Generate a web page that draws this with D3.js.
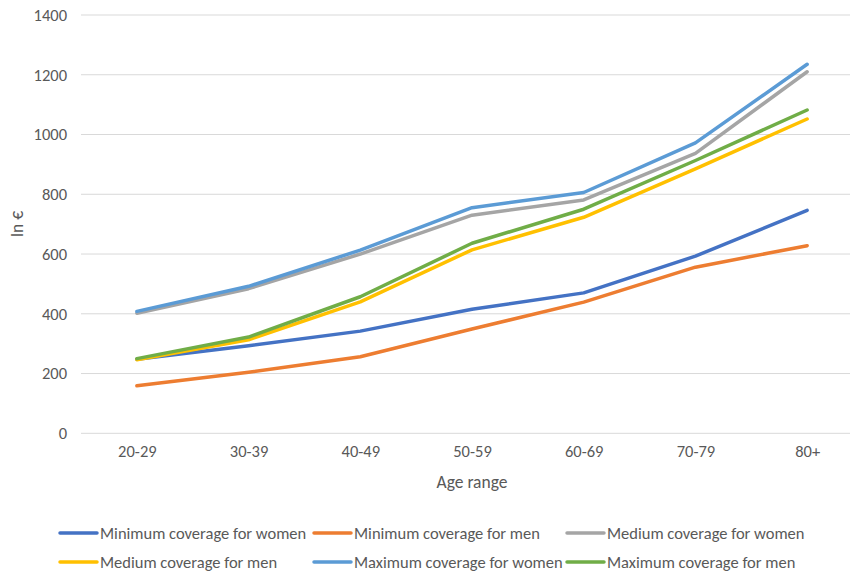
<!DOCTYPE html>
<html>
<head>
<meta charset="utf-8">
<script src="https://cdn.jsdelivr.net/npm/d3@7"></script>
<style>
  html, body { margin: 0; padding: 0; background: #fff; }
  svg { display: block; font-family: Carlito, Lato, "Liberation Sans", sans-serif; }
</style>
</head>
<body>
<svg id="chart" width="850" height="572"></svg>
<script>
// Age bands on the x axis
const ageRanges = ["20-29", "30-39", "40-49", "50-59", "60-69", "70-79", "80+"];

// Monthly cost in € per coverage level and sex
const minWomen = [248, 293, 342, 415, 470, 593, 746];
const minMen   = [159, 204, 256, 349, 439, 556, 628];
const medWomen = [402, 484, 600, 730, 781, 937, 1210];
const medMen   = [246, 313, 440, 614, 723, 885, 1052];
const maxWomen = [408, 492, 613, 755, 806, 972, 1235];
const maxMen   = [250, 322, 457, 636, 750, 913, 1082];

const seriesNames = [
  "Minimum coverage for women", "Minimum coverage for men", "Medium coverage for women",
  "Medium coverage for men", "Maximum coverage for women", "Maximum coverage for men"
];
const seriesValues = [minWomen, minMen, medWomen, medMen, maxWomen, maxMen];
const seriesColors = ["#4472C4", "#ED7D31", "#A5A5A5", "#FFC000", "#5B9BD5", "#70AD47"];

const yTicks = [0, 200, 400, 600, 800, 1000, 1200, 1400];

const svg = d3.select("#chart");
const plot = { left: 81, right: 863, top: 15, bottom: 433.3 };
const textColor = "#595959";

const x = d3.scalePoint()
  .domain(ageRanges)
  .range([plot.left, plot.right])
  .padding(0.5);

const y = d3.scaleLinear()
  .domain([0, 1400])
  .range([plot.bottom, plot.top]);

// Horizontal gridlines
svg.append("g")
  .selectAll("line")
  .data(yTicks)
  .join("line")
  .attr("x1", plot.left).attr("x2", plot.right)
  .attr("y1", d => y(d)).attr("y2", d => y(d))
  .attr("stroke", "#d9d9d9")
  .attr("stroke-width", 1);

// Y axis labels
const yAxis = svg.append("g")
  .attr("transform", `translate(${plot.left - 14},0)`)
  .call(d3.axisLeft(y).tickValues(yTicks).tickFormat(d3.format("d")).tickSize(0).tickPadding(0));
yAxis.select(".domain").remove();
yAxis.selectAll("text")
  .attr("fill", textColor)
  .style("font-size", "16.5px")
  .style("font-family", "Carlito, Lato, sans-serif");

// X axis labels
const xAxis = svg.append("g")
  .attr("transform", `translate(0,${plot.bottom + 12})`)
  .call(d3.axisBottom(x).tickSize(0).tickPadding(0));
xAxis.select(".domain").remove();
xAxis.selectAll("text")
  .attr("fill", textColor)
  .style("font-size", "16.5px")
  .style("font-family", "Carlito, Lato, sans-serif");

// Axis titles
svg.append("text")
  .attr("x", (plot.left + plot.right) / 2)
  .attr("y", 488)
  .attr("text-anchor", "middle")
  .attr("fill", textColor)
  .style("font-size", "17.5px")
  .text("Age range");

svg.append("text")
  .attr("transform", `translate(23,${(plot.top + plot.bottom) / 2}) rotate(-90)`)
  .attr("text-anchor", "middle")
  .attr("fill", textColor)
  .style("font-size", "17.5px")
  .text("In €");

// Series lines
const line = d3.line()
  .x((d, i) => x(ageRanges[i]))
  .y(d => y(d));

svg.append("g")
  .selectAll("path")
  .data(seriesValues)
  .join("path")
  .attr("d", d => line(d))
  .attr("fill", "none")
  .attr("stroke", (d, i) => seriesColors[i])
  .attr("stroke-width", 3.5)
  .attr("stroke-linejoin", "round")
  .attr("stroke-linecap", "round");

// Legend: two rows of three entries
const legendCols = [60, 314, 567];
const legendRows = [533, 562];
const legend = svg.append("g")
  .selectAll("g")
  .data(seriesNames)
  .join("g")
  .attr("transform", (d, i) => `translate(${legendCols[i % 3]},${legendRows[Math.floor(i / 3)]})`);

legend.append("line")
  .attr("x1", 0).attr("x2", 37)
  .attr("y1", 0).attr("y2", 0)
  .attr("stroke", (d, i) => seriesColors[i])
  .attr("stroke-width", 3.5)
  .attr("stroke-linecap", "round");

legend.append("text")
  .attr("x", 40)
  .attr("y", 0)
  .attr("dy", "0.35em")
  .attr("fill", textColor)
  .style("font-size", "16.5px")
  .text(d => d);
</script>
</body>
</html>
